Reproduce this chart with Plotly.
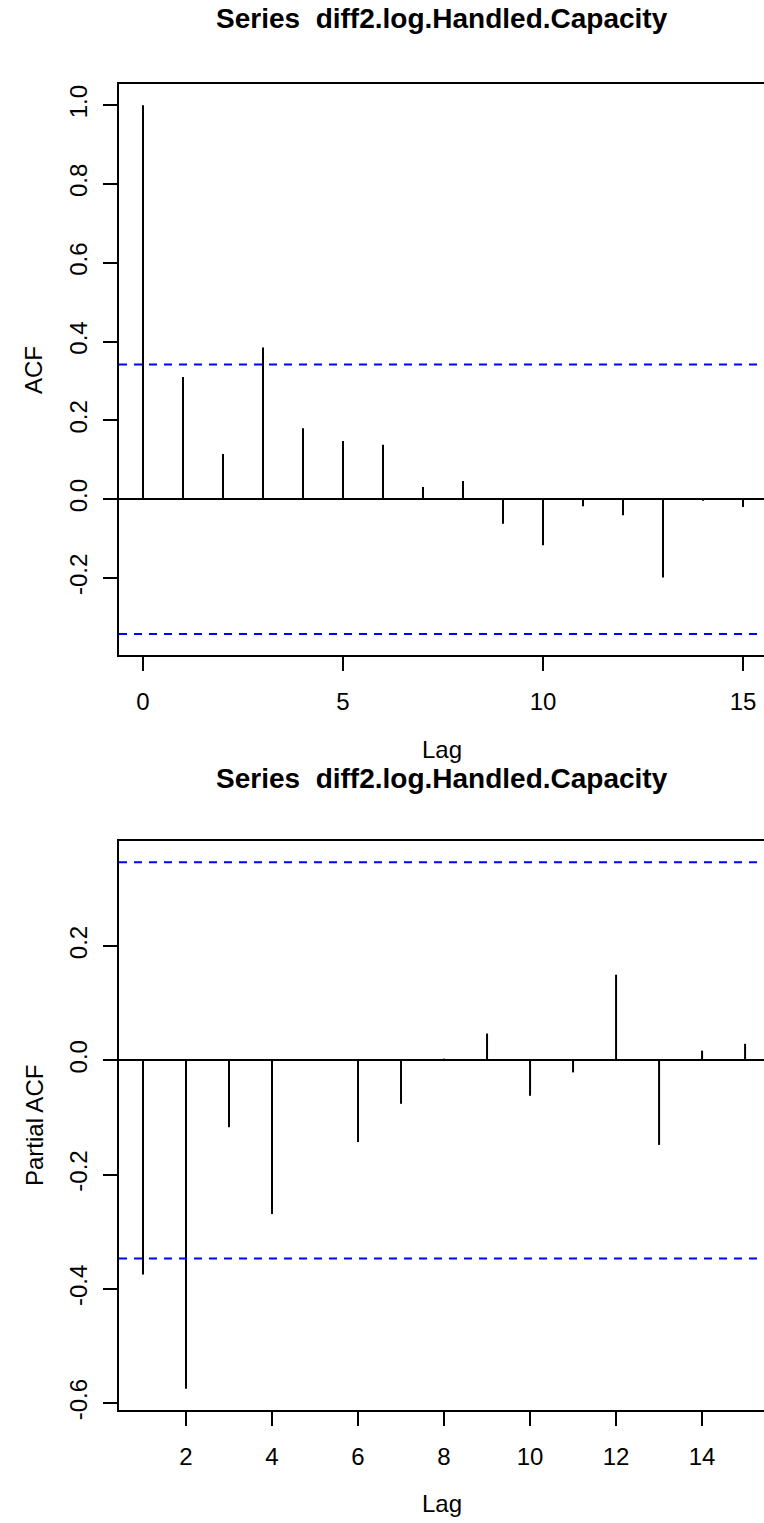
import plotly.graph_objects as go

# ---- data ----
acf_lags = list(range(0, 16))
acf_vals = [1.0, 0.31, 0.115, 0.385, 0.18, 0.148, 0.138, 0.031, 0.046,
            -0.062, -0.117, -0.018, -0.041, -0.199, -0.004, -0.020]
acf_ci = 0.342

pacf_lags = list(range(1, 16))
pacf_vals = [-0.375, -0.575, -0.117, -0.269, 0.001, -0.143, -0.076, 0.003,
             0.047, -0.062, -0.021, 0.150, -0.148, 0.017, 0.029]
pacf_ci = 0.347

title_text = "Series  diff2.log.Handled.Capacity"
acf_xticks = [0, 5, 10, 15]
acf_yticks = [-0.2, 0.0, 0.2, 0.4, 0.6, 0.8, 1.0]
acf_yticktext = ["-0.2", "0.0", "0.2", "0.4", "0.6", "0.8", "1.0"]
pacf_xticks = [2, 4, 6, 8, 10, 12, 14]
pacf_yticks = [-0.6, -0.4, -0.2, 0.0, 0.2]
pacf_yticktext = ["-0.6", "-0.4", "-0.2", "0.0", "0.2"]

W, H = 764, 1523
L = 119
FONT = "Liberation Sans, Arial, sans-serif"


def stems(lags, vals):
    xs, ys = [], []
    for lg, v in zip(lags, vals):
        xs += [lg, lg, None]
        ys += [0, v, None]
    return xs, ys


def py(pix):
    return (H - pix) / H


def px(pix):
    return (pix - L) / (W - L)


fig = go.Figure()
x1, y1 = stems(acf_lags, acf_vals)
fig.add_trace(go.Scatter(x=x1, y=y1, mode="lines", line=dict(color="black", width=2),
                         xaxis="x", yaxis="y", showlegend=False, hoverinfo="skip"))
x2, y2 = stems(pacf_lags, pacf_vals)
fig.add_trace(go.Scatter(x=x2, y=y2, mode="lines", line=dict(color="black", width=2),
                         xaxis="x2", yaxis="y2", showlegend=False, hoverinfo="skip"))

# confidence lines
for ci, xr, yr in [(acf_ci, "x", "y"), (pacf_ci, "x2", "y2")]:
    for s in (1, -1):
        fig.add_shape(type="line", xref=xr + " domain", yref=yr, x0=0, x1=1,
                      y0=s * ci, y1=s * ci,
                      line=dict(color="#0000FF", width=2, dash="8px,7px"))

ax_common = dict(showgrid=False, ticks="outside", ticklen=14, tickwidth=2,
                 tickcolor="black", showline=True, linewidth=2, linecolor="black",
                 tickfont=dict(family=FONT, size=24, color="black"), automargin=False)

top_dom = [py(655), py(84)]
bot_dom = [py(1410), py(841)]

fig.update_layout(
    width=W, height=H,
    margin=dict(l=L, r=0, t=0, b=0),
    paper_bgcolor="white", plot_bgcolor="white",
    font=dict(family=FONT, color="black"),
    xaxis=dict(domain=[0, 1], range=[-0.6, 15.525], tickvals=acf_xticks,
               ticktext=[str(v) for v in acf_xticks], mirror=True, zeroline=False,
               anchor="y", ticklabelstandoff=10, **ax_common),
    yaxis=dict(domain=top_dom, range=[-0.3954, 1.0537], tickvals=acf_yticks,
               ticktext=acf_yticktext, tickangle=-90, mirror=False,
               zeroline=True, zerolinecolor="black", zerolinewidth=2,
               anchor="x", ticklabelstandoff=6, **ax_common),
    xaxis2=dict(domain=[0, 1], range=[0.442, 15.44], tickvals=pacf_xticks,
                ticktext=[str(v) for v in pacf_xticks], mirror=True, zeroline=False,
                anchor="y2", ticklabelstandoff=10, **ax_common),
    yaxis2=dict(domain=bot_dom, range=[-0.612, 0.384], tickvals=pacf_yticks,
                ticktext=pacf_yticktext, tickangle=-90, mirror=False,
                zeroline=True, zerolinecolor="black", zerolinewidth=2,
                anchor="x2", ticklabelstandoff=6, **ax_common),
)

ann = []
for yc in (18, 778):
    ann.append(dict(text="<b>" + title_text + "</b>", xref="paper", yref="paper",
                    x=0.5, y=py(yc), xanchor="center", yanchor="middle",
                    showarrow=False, font=dict(family=FONT, size=28, color="black")))
for yc in (750, 1503):
    ann.append(dict(text="Lag", xref="paper", yref="paper", x=0.5, y=py(yc),
                    xanchor="center", yanchor="middle", showarrow=False,
                    font=dict(family=FONT, size=24, color="black")))
for txt, yc in (("ACF", 370), ("Partial ACF", 1125)):
    ann.append(dict(text=txt, xref="paper", yref="paper", x=px(34), y=py(yc),
                    xanchor="center", yanchor="middle", textangle=-90, showarrow=False,
                    font=dict(family=FONT, size=24, color="black")))
fig.update_layout(annotations=ann)

fig.write_html("out.html")
